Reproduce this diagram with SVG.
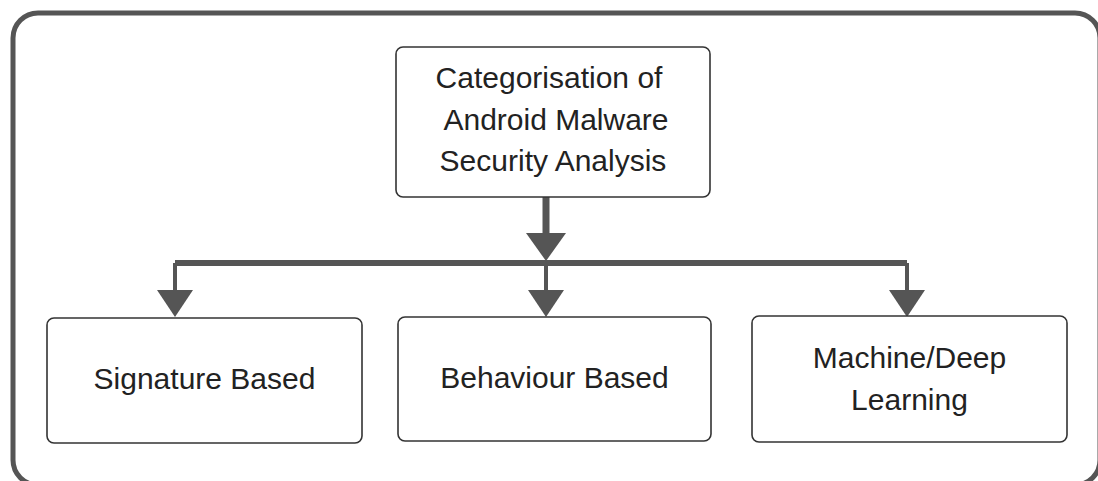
<svg xmlns="http://www.w3.org/2000/svg" width="1098" height="481" viewBox="0 0 1098 481">
<style>
.node rect{fill:#fff;stroke:#333;stroke-width:1.6}
.node text{font-family:"Liberation Sans",Arial,sans-serif;font-size:30px;fill:#222;text-anchor:middle}
.conn{stroke:#555;fill:none}
.head{fill:#555}
</style>
<rect x="13" y="13" width="1087" height="472" rx="25" fill="#fff" stroke="#555" stroke-width="5"/>
<g id="connectors">
<line class="conn" x1="546" y1="197" x2="546" y2="236" stroke-width="7"/>
<polygon class="head" points="526,233 566,233 546,261"/>
<line class="conn" x1="175" y1="263" x2="907" y2="263" stroke-width="6"/>
<line class="conn" x1="175" y1="263" x2="175" y2="292" stroke-width="4"/>
<line class="conn" x1="546" y1="263" x2="546" y2="292" stroke-width="4"/>
<line class="conn" x1="907" y1="263" x2="907" y2="292" stroke-width="4"/>
<polygon class="head" points="157,290 193,290 175,317"/>
<polygon class="head" points="528,290 564,290 546,317"/>
<polygon class="head" points="889,290 925,290 907,317"/>
</g>
<g id="n-top" class="node">
<rect x="396" y="47" width="314" height="150" rx="7"/>
<text x="549" y="88">Categorisation of</text>
<text x="556" y="130">Android Malware</text>
<text x="553" y="171">Security Analysis</text>
</g>
<g id="n-signature" class="node">
<rect x="47" y="318" width="315" height="125" rx="7"/>
<text x="204.5" y="389">Signature Based</text>
</g>
<g id="n-behaviour" class="node">
<rect x="398" y="317" width="313" height="124" rx="7"/>
<text x="554.5" y="388">Behaviour Based</text>
</g>
<g id="n-ml" class="node">
<rect x="752" y="316" width="315" height="126" rx="7"/>
<text x="909.5" y="368">Machine/Deep</text>
<text x="909.5" y="410">Learning</text>
</g>
</svg>
